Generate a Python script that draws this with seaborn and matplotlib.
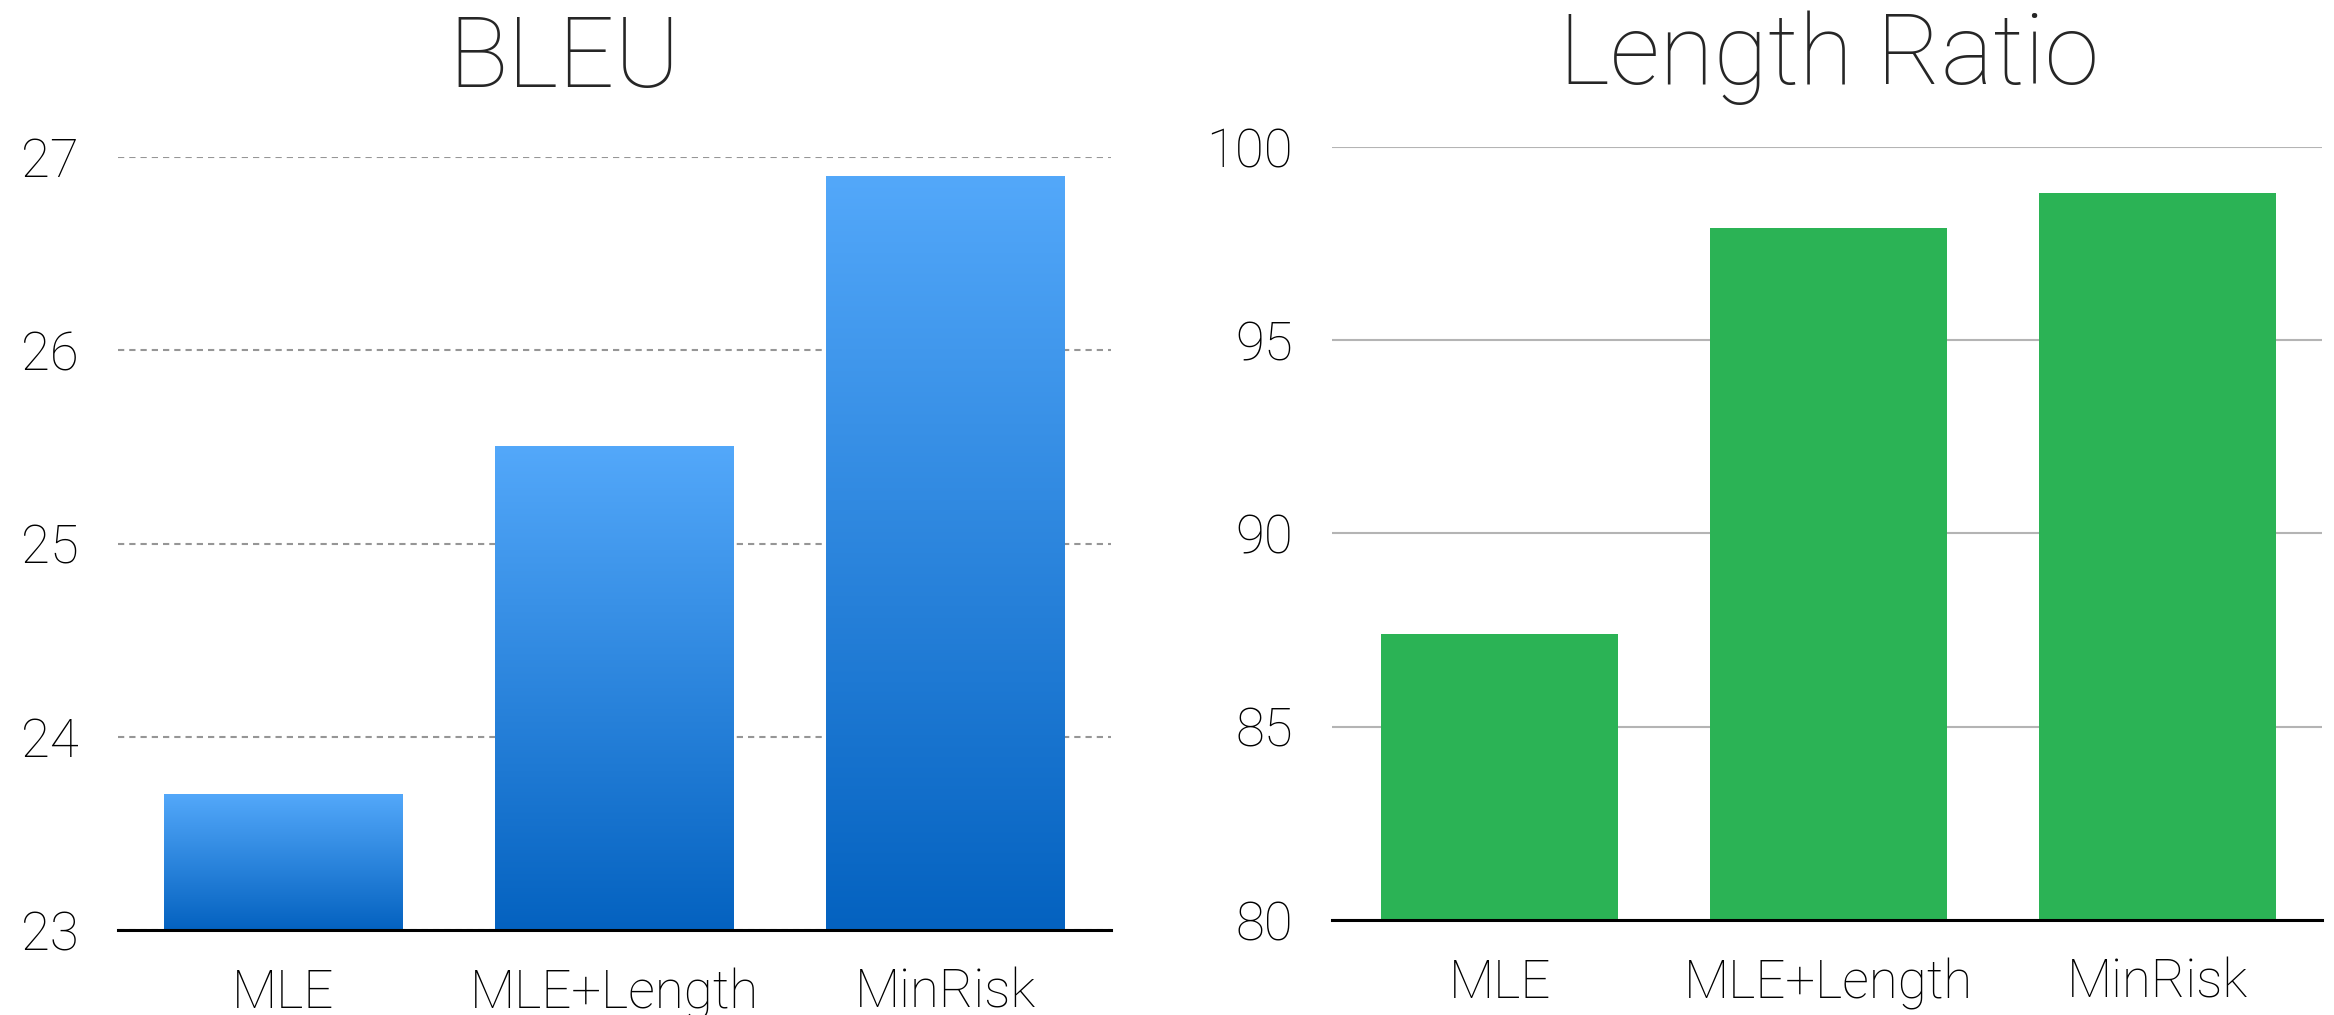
import numpy as np
import pandas as pd
import matplotlib
matplotlib.use("Agg")
import matplotlib.pyplot as plt
import seaborn as sns
from matplotlib.colors import LinearSegmentedColormap

# data
systems = ["MLE", "MLE+Length", "MinRisk"]
bleu = [23.7, 25.5, 26.9]
length_ratio = [87.4, 97.9, 98.8]
bleu_ticks = [23, 24, 25, 26, 27]
ratio_ticks = [80, 85, 90, 95, 100]

sns.set_theme(style="white")
plt.rcParams["font.family"] = ["Roboto", "DejaVu Sans"]

W, H = 2334, 1015
fig = plt.figure(figsize=(W / 100, H / 100), dpi=100)

# axes placed in pixel terms of the reference
ax1 = fig.add_axes([118 / W, (H - 930) / H, 993 / W, 773 / H])
ax2 = fig.add_axes([1332 / W, (H - 920) / H, 990 / W, 773 / H])

df = pd.DataFrame({"system": systems, "bleu": bleu, "ratio": length_ratio})

sns.barplot(data=df, x="system", y="bleu", ax=ax1, color="#2a86e0",
            width=0.72, linewidth=0, saturation=1)
sns.barplot(data=df, x="system", y="ratio", ax=ax2, color="#2bb355",
            width=0.72, linewidth=0, saturation=1)

ax1.set_ylim(23, 27)
ax1.set_xlim(-0.5, 2.5)
ax2.set_ylim(80, 100)
ax2.set_xlim(-0.51, 2.5)

# blue vertical gradient on each BLEU bar (dark bottom -> light top)
cmap = LinearSegmentedColormap.from_list("blue_grad", ["#0462c0", "#53a8fa"])
grad = np.linspace(0, 1, 256).reshape(-1, 1)
ybot = ax1.get_ylim()[0]
for p in ax1.patches:
    x0 = p.get_x()
    w = p.get_width()
    top = p.get_y() + p.get_height()
    ax1.imshow(grad, extent=[x0, x0 + w, max(p.get_y(), ybot), top],
               cmap=cmap, aspect="auto", origin="lower", zorder=2)
    p.set_facecolor("none")
ax1.set_ylim(23, 27)
ax1.set_xlim(-0.5, 2.5)

for ax, ticks in [(ax1, bleu_ticks), (ax2, ratio_ticks)]:
    ax.set_yticks(ticks)
    ax.set_xlabel("")
    ax.set_ylabel("")
    for side in ["top", "left", "right"]:
        ax.spines[side].set_visible(False)
    ax.spines["bottom"].set_color("black")
    ax.spines["bottom"].set_linewidth(2.2)
    ax.spines["bottom"].set_zorder(5)
    ax.tick_params(axis="both", length=0, labelsize=38, colors="black")
    ax.tick_params(axis="y", pad=28)
    ax.tick_params(axis="x", pad=27)
    ax.set_axisbelow(True)
    for lab in ax.get_xticklabels() + ax.get_yticklabels():
        lab.set_fontweight("light")

ax1.yaxis.grid(True, color="#969696", linestyle=(0, (3, 2.4)), linewidth=1.5)
ax2.yaxis.grid(True, color="#b4b4b4", linestyle="-", linewidth=1.5)

fig.text(564 / W, 1 - 87 / H, "BLEU", ha="center", va="baseline",
         fontsize=71, fontweight="light")
fig.text(1829 / W, 1 - 84 / H, "Length Ratio", ha="center", va="baseline",
         fontsize=71, fontweight="light")

fig.savefig("out.png", dpi=100, facecolor="white")
plt.close(fig)
